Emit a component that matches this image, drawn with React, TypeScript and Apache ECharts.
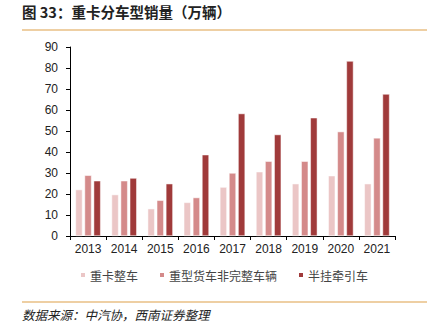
import React, { useEffect, useRef } from "react";
import * as echarts from "echarts";

const years = ["2013", "2014", "2015", "2016", "2017", "2018", "2019", "2020", "2021"];
const heavyComplete = [22.1, 19.7, 13.0, 16.0, 23.3, 30.6, 24.9, 28.7, 24.9];
const heavyIncomplete = [28.9, 26.3, 17.0, 18.3, 30.0, 35.6, 35.6, 49.7, 46.7];
const semiTractor = [26.3, 27.6, 24.9, 38.7, 58.3, 48.3, 56.3, 83.3, 67.6];
const seriesNames = ["重卡整车", "重型货车非完整车辆", "半挂牵引车"];
const colors = ["#EBC6C6", "#D48A8A", "#A03A3A"];

export default function App() {
  const ref = useRef<HTMLDivElement>(null);
  useEffect(() => {
    const chart = echarts.init(ref.current!, null, { renderer: "svg" });
    const data = [heavyComplete, heavyIncomplete, semiTractor];
    chart.setOption({
      animation: false,
      textStyle: { fontFamily: "Liberation Sans, Arial, sans-serif" },
      grid: { left: 70, right: 39, top: 47, bottom: 98, containLabel: false },
      legend: {
        data: seriesNames,
        left: 79,
        top: 269,
        padding: 0,
        itemWidth: 6,
        itemHeight: 6,
        itemGap: 20,
        icon: "rect",
        textStyle: { fontSize: 12, color: "#444", fontFamily: "Noto Sans CJK SC", padding: [0, 0, 0, -1] },
      },
      xAxis: {
        type: "category",
        data: years,
        axisLine: { lineStyle: { color: "#000", width: 1 } },
        axisTick: { show: true, alignWithLabel: false, length: 4, lineStyle: { color: "#000" } },
        axisLabel: { color: "#222", fontSize: 12, margin: 7 },
      },
      yAxis: {
        type: "value",
        min: 0,
        max: 90,
        interval: 10,
        splitLine: { show: false },
        axisLine: { show: true, lineStyle: { color: "#000", width: 1 } },
        axisTick: { show: true, length: 4, lineStyle: { color: "#000" } },
        axisLabel: { color: "#222", fontSize: 12, margin: 12 },
      },
      series: data.map((d, i) => ({
        name: seriesNames[i],
        type: "bar",
        data: d,
        barWidth: 7,
        barGap: "30%",
        itemStyle: { color: colors[i], borderColor: "#fff", borderWidth: 0.5 },
      })),
      graphic: [
        {
          type: "text",
          left: 22,
          top: 4,
          style: { text: "图 33：重卡分车型销量（万辆）", fontSize: 14.5, fontWeight: "bold", fill: "#222", fontFamily: "Noto Sans CJK SC" },
        },
        { type: "line", shape: { x1: 22, y1: 30, x2: 427, y2: 30 }, style: { stroke: "#DDA048", lineWidth: 1.2 } },
        { type: "line", shape: { x1: 22, y1: 302, x2: 427, y2: 302 }, style: { stroke: "#DDA048", lineWidth: 1.2 } },
        {
          type: "text",
          left: 22,
          top: 308,
          style: { text: "数据来源：中汽协，西南证券整理", fontSize: 12.5, fontStyle: "italic", fill: "#222", fontFamily: "Noto Sans CJK SC" },
        },
      ],
    });
    return () => chart.dispose();
  }, []);
  return <div ref={ref} style={{ width: 434, height: 334, position: "absolute", left: 0, top: 0 }} />;
}
